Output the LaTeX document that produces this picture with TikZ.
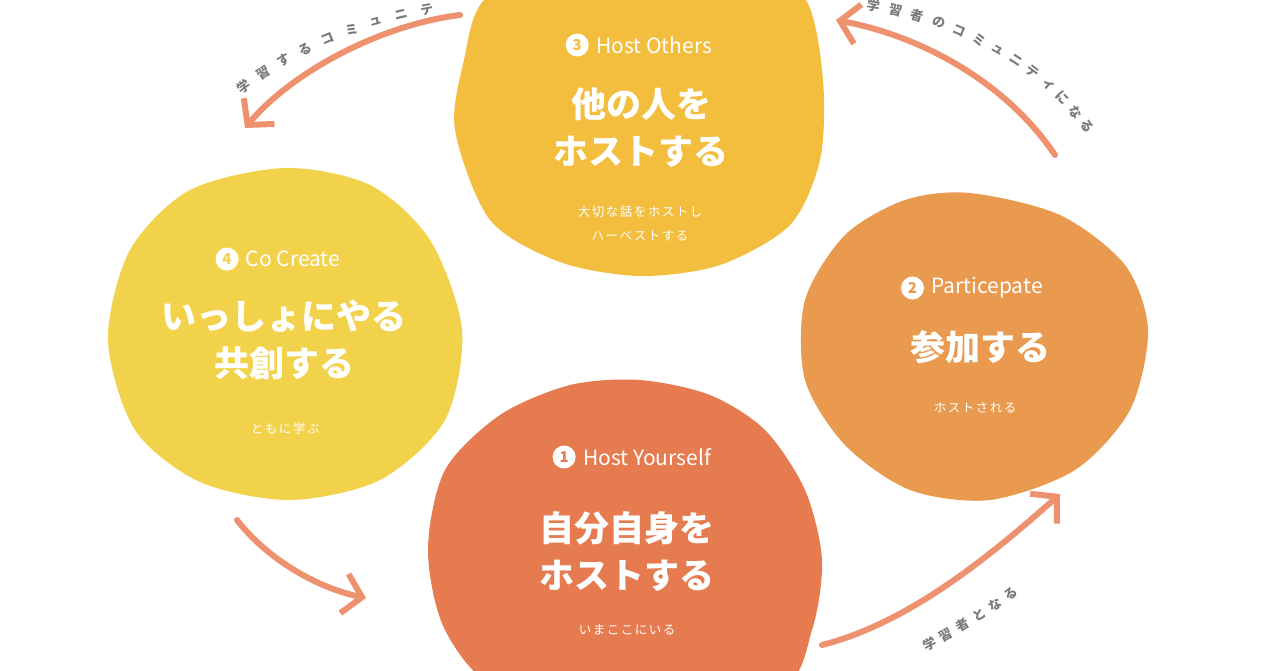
\documentclass[tikz,border=0pt]{standalone}
\usepackage{fontspec}
\setmainfont{Noto Sans CJK JP}
\usetikzlibrary{arrows.meta, positioning}
\definecolor{OthersYellow}{HTML}{F3BE3D}
\definecolor{CreateYellow}{HTML}{F3D24B}
\definecolor{JoinOrange}{HTML}{E99A4F}
\definecolor{SelfOrange}{HTML}{E67B4F}
\definecolor{ArrowSalmon}{HTML}{EE916E}
\definecolor{LabelGray}{HTML}{7A7A7A}

\begin{document}
\begin{tikzpicture}[
        x=1pt, y=-1pt,
        % Titulo grande dentro de cada mancha
        blobtitle/.style={
                text=white,
                font=\fontsize{35}{47}\selectfont\bfseries,
                align=center,
                inner sep=0pt
            },
        % Encabezado en ingles
        blobhead/.style={
                text=white,
                font=\fontsize{21}{24}\selectfont,
                inner sep=0pt
            },
        % Numero en circulo
        numdot/.style={
                circle,
                fill=white,
                inner sep=0pt,
                minimum size=23pt,
                font=\fontsize{15}{15}\selectfont\bfseries
            },
        % Nota pequena
        blobnote/.style={
                text=white,
                font=\fontsize{12.5}{24}\selectfont\addfontfeatures{LetterSpace=12},
                align=center,
                inner sep=0pt
            },
        % Flechas del ciclo
        flowarrow/.style={
                draw=ArrowSalmon,
                line width=6pt,
                line cap=round,
                -{Straight Barb[length=18pt, width=40pt, line width=6pt]}
            },
        % Letras de las flechas
        arrowlabel/.style={
                text=LabelGray,
                font=\fontsize{13}{13}\selectfont\bfseries,
                inner sep=0pt,
                sloped
            }
    ]

    \clip (0,0) rectangle (1280,670);
    \useasboundingbox (0,0) rectangle (1280,670);

    % MANCHAS
    \fill[OthersYellow] plot[smooth cycle] coordinates {
            (455,130) (464,60) (484,0) (560,-40) (650,-50) (750,-35) (806,0) (823,80)
            (820,160) (790,225) (720,265) (640,276) (560,262) (490,220)};
    \fill[CreateYellow] plot[smooth cycle] coordinates {
            (285,168) (370,185) (430,240) (462,330) (445,420) (380,480) (290,500)
            (200,482) (135,430) (108,340) (130,250) (190,190)};
    \fill[JoinOrange] plot[smooth cycle] coordinates {
            (970,193) (1060,215) (1125,265) (1148,330) (1130,410) (1075,470) (990,500)
            (910,490) (845,445) (805,380) (805,300) (845,235) (905,200)};
    \fill[SelfOrange] plot[smooth cycle] coordinates {
            (640,380) (710,395) (765,430) (805,490) (822,560) (812,630) (780,690)
            (640,720) (500,690) (445,630) (428,550) (445,470) (500,415) (570,385)};

    % 3 HOST OTHERS
    \node[blobhead] (h3) at (654,45) {Host Others};
    \node[numdot, text=OthersYellow, left=7pt of h3] (n3) {3};
    \node[blobtitle] (t3) at (641,128) {他の人を\\ホストする};
    \node[blobnote] (s3) at (640,224) {大切な話をホストし\\ハーベストする};

    % 4 CO CREATE
    \node[blobhead] (h4) at (293,259) {Co Create};
    \node[numdot, text=CreateYellow, left=7pt of h4] (n4) {4};
    \node[blobtitle] (t4) at (284,340) {いっしょにやる\\共創する};
    \node[blobnote] (s4) at (285,429) {ともに学ぶ};

    % 2 PARTICEPATE
    \node[blobhead] (h2) at (987,288) {Particepate};
    \node[numdot, text=JoinOrange, left=7pt of h2] (n2) {2};
    \node[blobtitle] (t2) at (980,347) {参加する};
    \node[blobnote] (s2) at (975,408) {ホストされる};

    % 1 HOST YOURSELF
    \node[blobhead] (h1) at (647,457) {Host Yourself};
    \node[numdot, text=SelfOrange, left=7pt of h1] (n1) {1};
    \node[blobtitle] (t1) at (627,551) {自分自身を\\ホストする};
    \node[blobnote] (s1) at (627,630) {いまここにいる};

    % Extremos de las flechas
    \coordinate (a3s) at (460,15);
    \coordinate (a3e) at (245,128);
    \coordinate (a4s) at (237,520);
    \coordinate (a4e) at (366,598);
    \coordinate (a1s) at (822,645);
    \coordinate (a1e) at (1060,494);
    \coordinate (a2s) at (1055,155);
    \coordinate (a2e) at (836,20);

    \draw[flowarrow] (a3s) .. controls (380,25) and (292,72) .. (a3e);
    \draw[flowarrow] (a4s) .. controls (268,560) and (318,588) .. (a4e);
    \draw[flowarrow] (a1s) .. controls (900,625) and (975,570) .. (a1e);
    \draw[flowarrow] (a2s) .. controls (1010,88) and (930,38) .. (a2e);

    % Textos de las flechas
    \path (234,94) .. controls (292,48) and (365,18) .. (448,6)
    foreach \c [count=\i] in {学,習,す,る,コ,ミ,ュ,ニ,テ} {
            node[arrowlabel, pos=(\i-0.5)/9.3] (ltl\i) {\c}
        };
    \path (862,4) .. controls (960,18) and (1050,68) .. (1092,134)
    foreach \c [count=\i] in {学,習,者,の,コ,ミ,ュ,ニ,テ,ィ,に,な,る} {
            node[arrowlabel, pos=(\i-0.5)/13] (ltr\i) {\c}
        };
    \path (922,648) .. controls (952,632) and (990,610) .. (1018,588)
    foreach \c [count=\i] in {学,習,者,と,な,る} {
            node[arrowlabel, pos=(\i-0.5)/6] (lbr\i) {\c}
        };

\end{tikzpicture}
\end{document}
